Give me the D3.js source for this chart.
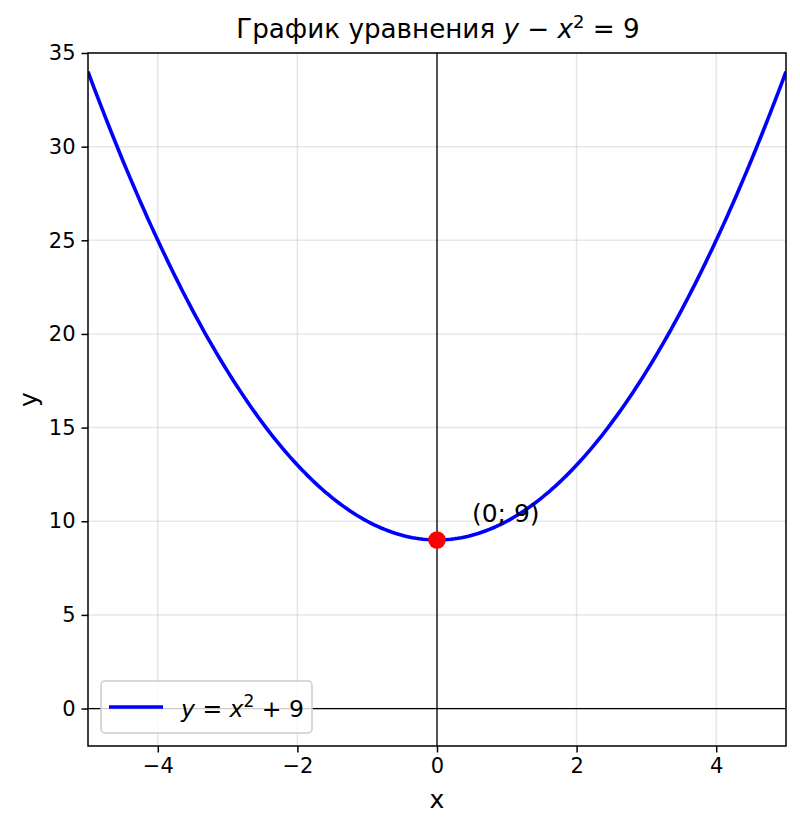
<!DOCTYPE html>
<html><head><meta charset="utf-8">
<script src="https://cdn.jsdelivr.net/npm/d3@7"></script>
<style>body{margin:0;background:#fff}svg{display:block;font-family:"DejaVu Sans",sans-serif}</style>
</head><body>
<svg id="c" width="800" height="828"></svg>
<script>
const xTicks = [-4, -2, 0, 2, 4];
const yTicks = [0, 5, 10, 15, 20, 25, 30, 35];
const xDomain = [-5, 5];
const yDomain = [-2, 35];
// curve samples of y = x^2 + 9 (the equation shown in the legend)
const curveX = d3.range(-5, 5.0001, 0.05);
const curvePts = curveX.map(x => [x, x * x + 9]);
const vertex = [0, 9];
const vertexLabel = "(0; 9)";
const labelPos = [0.5, 10];

const svg = d3.select("#c");
const L = 88, R = 786, T = 53, B = 746;
const x = d3.scaleLinear().domain(xDomain).range([L, R]);
const y = d3.scaleLinear().domain(yDomain).range([B, T]);

const defs = svg.append("defs");
defs.append("clipPath").attr("id", "clip").append("rect").attr("x", L).attr("y", T).attr("width", R - L).attr("height", B - T);

// grid
const g = svg.append("g");
g.selectAll(".gx").data(xTicks).enter().append("line")
  .attr("x1", d => x(d)).attr("x2", d => x(d)).attr("y1", T).attr("y2", B)
  .attr("stroke", "#b0b0b0").attr("stroke-opacity", 0.3).attr("stroke-width", 1.5);
g.selectAll(".gy").data(yTicks).enter().append("line")
  .attr("y1", d => y(d)).attr("y2", d => y(d)).attr("x1", L).attr("x2", R)
  .attr("stroke", "#b0b0b0").attr("stroke-opacity", 0.3).attr("stroke-width", 1.5);

// zero axes lines
svg.append("line").attr("x1", x(0)).attr("x2", x(0)).attr("y1", T).attr("y2", B).attr("stroke", "#000").attr("stroke-width", 1.3);
svg.append("line").attr("y1", y(0)).attr("y2", y(0)).attr("x1", L).attr("x2", R).attr("stroke", "#000").attr("stroke-width", 1.3);

// curve
svg.append("path").datum(curvePts).attr("clip-path", "url(#clip)")
  .attr("d", d3.line().x(d => x(d[0])).y(d => y(d[1])))
  .attr("fill", "none").attr("stroke", "#0000ff").attr("stroke-width", 3.6);

// vertex point
svg.append("circle").attr("cx", x(vertex[0])).attr("cy", y(vertex[1])).attr("r", 8.8).attr("fill", "#ff0000");
svg.append("text").attr("x", x(labelPos[0])).attr("y", y(labelPos[1]) + 1).attr("font-size", 25).attr("fill", "#000").text(vertexLabel);

// axes
const xa = svg.append("g").attr("transform", `translate(0,${B})`)
  .call(d3.axisBottom(x).tickValues(xTicks).tickSize(6.5).tickPadding(6).tickFormat(d => d < 0 ? "\u2212" + Math.abs(d) : d));
const ya = svg.append("g").attr("transform", `translate(${L},0)`)
  .call(d3.axisLeft(y).tickValues(yTicks).tickSize(6.5).tickPadding(6).tickFormat(d => d));
[xa, ya].forEach(a => {
  a.select(".domain").remove();
  a.selectAll("line").attr("stroke", "#000").attr("stroke-width", 1.5);
  a.selectAll("text").attr("font-size", 21).attr("fill", "#000").attr("font-family", "DejaVu Sans");
});
// spines
svg.append("rect").attr("x", L).attr("y", T).attr("width", R - L).attr("height", B - T)
  .attr("fill", "none").attr("stroke", "#000").attr("stroke-width", 1.5);

// axis labels
svg.append("text").attr("x", (L + R) / 2).attr("y", 808).attr("text-anchor", "middle").attr("font-size", 25).text("x");
svg.append("text").attr("transform", `translate(37,${(T + B) / 2}) rotate(-90)`).attr("text-anchor", "middle").attr("font-size", 25).text("y");

// title
const title = svg.append("text").attr("x", (L + R) / 2 + 1).attr("y", 38).attr("text-anchor", "middle").attr("font-size", 26.2);
title.append("tspan").text("График уравнения ");
title.append("tspan").attr("font-style", "italic").text("y");
title.append("tspan").text(" \u2212 ");
title.append("tspan").attr("font-style", "italic").text("x");
title.append("tspan").attr("font-size", 18).attr("dy", -10).text("2");
title.append("tspan").attr("dy", 10).text(" = 9");

// legend
const lg = svg.append("g");
lg.append("rect").attr("x", 101).attr("y", 681).attr("width", 211).attr("height", 52).attr("rx", 4)
  .attr("fill", "#fff").attr("fill-opacity", 0.8).attr("stroke", "#cccccc").attr("stroke-width", 1.5);
lg.append("line").attr("x1", 109).attr("x2", 163).attr("y1", 707).attr("y2", 707).attr("stroke", "#0000ff").attr("stroke-width", 3.6);
const lt = lg.append("text").attr("x", 181).attr("y", 717).attr("font-size", 23.5);
lt.append("tspan").attr("font-style", "italic").text("y");
lt.append("tspan").text(" = ");
lt.append("tspan").attr("font-style", "italic").text("x");
lt.append("tspan").attr("font-size", 17).attr("dy", -10).text("2");
lt.append("tspan").attr("dy", 10).text(" + 9");
</script>
</body></html>
